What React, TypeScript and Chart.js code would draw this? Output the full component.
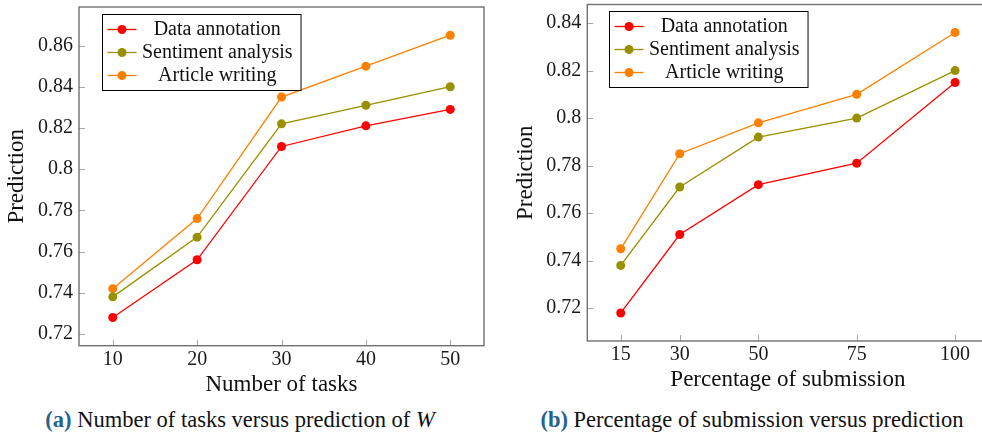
import React, { useEffect, useRef } from "react";
import { Chart, registerables } from "chart.js";
Chart.register(...registerables);

const FONT = "'Liberation Serif', 'DejaVu Serif', serif";

const seriesNames = ["Data annotation", "Sentiment analysis", "Article writing"];
const seriesColors = ["#ff0000", "#999000", "#ff8000"];

// (a) Number of tasks
const tasksX = [10, 20, 30, 40, 50];
const tasksAnnotation = [0.728, 0.756, 0.811, 0.821, 0.829];
const tasksSentiment = [0.738, 0.767, 0.822, 0.831, 0.84];
const tasksArticle = [0.742, 0.776, 0.835, 0.85, 0.865];
const tasksYTicks = [0.72, 0.74, 0.76, 0.78, 0.8, 0.82, 0.84, 0.86];

// (b) Percentage of submission
const subX = [15, 30, 50, 75, 100];
const subAnnotation = [0.718, 0.751, 0.772, 0.781, 0.815];
const subSentiment = [0.738, 0.771, 0.792, 0.8, 0.82];
const subArticle = [0.745, 0.785, 0.798, 0.81, 0.836];
const subYTicks = [0.72, 0.74, 0.76, 0.78, 0.8, 0.82, 0.84];

function enlarged(vals: number[]) {
  const mn = Math.min(...vals);
  const mx = Math.max(...vals);
  const r = mx - mn;
  return { min: mn - 0.1 * r, max: mx + 0.1 * r };
}

const boxPlugin = {
  id: "pgfBox",
  afterDatasetsDraw(chart: any) {
    const { ctx, chartArea, scales } = chart;
    const { left, right, top, bottom } = chartArea;
    ctx.save();
    ctx.strokeStyle = "#a8a8a8";
    ctx.lineWidth = 1;
    scales.x.ticks.forEach((t: any) => {
      const px = Math.round(scales.x.getPixelForValue(t.value)) + 0.5;
      ctx.beginPath();
      ctx.moveTo(px, bottom);
      ctx.lineTo(px, bottom - 6);
      ctx.stroke();
    });
    scales.y.ticks.forEach((t: any) => {
      const py = Math.round(scales.y.getPixelForValue(t.value)) + 0.5;
      ctx.beginPath();
      ctx.moveTo(left, py);
      ctx.lineTo(left + 6, py);
      ctx.stroke();
    });
    ctx.strokeStyle = "#707070";
    ctx.lineWidth = 1.4;
    ctx.strokeRect(left, top, right - left, bottom - top);
    ctx.restore();
  },
};

const legendPlugin = {
  id: "pgfLegend",
  afterDraw(chart: any, _args: any, opts: any) {
    const { ctx, chartArea } = chart;
    ctx.save();
    ctx.font = `20px ${FONT}`;
    const ds = chart.data.datasets;
    const maxW = Math.max(...ds.map((d: any) => ctx.measureText(d.label).width));
    const x0 = Math.round(chartArea.left + opts.dx) + 0.5;
    const y0 = Math.round(chartArea.top + opts.dy) + 0.5;
    const sampleW = 34;
    const w = sampleW + 8 + maxW + 6;
    const h = 76;
    ctx.fillStyle = "#ffffff";
    ctx.fillRect(x0, y0, w, h);
    ctx.strokeStyle = "#000000";
    ctx.lineWidth = 1;
    ctx.strokeRect(x0, y0, w, h);
    ds.forEach((d: any, i: number) => {
      const y = y0 + 15 + i * 23;
      ctx.strokeStyle = d.borderColor;
      ctx.lineWidth = 1.3;
      ctx.beginPath();
      ctx.moveTo(x0 + 5, y);
      ctx.lineTo(x0 + sampleW, y);
      ctx.stroke();
      ctx.fillStyle = d.borderColor;
      ctx.beginPath();
      ctx.arc(x0 + 19.5, y, 4.5, 0, Math.PI * 2);
      ctx.fill();
      ctx.fillStyle = "#111111";
      ctx.textAlign = "center";
      ctx.textBaseline = "middle";
      ctx.fillText(d.label, x0 + sampleW + 5.5 + maxW / 2, y);
    });
    ctx.restore();
  },
};

type Cfg = {
  xs: number[];
  series: number[][];
  yTicks: number[];
  xTitle: string;
  width: number;
  height: number;
  padTop: number;
  padRight: number;
  yAxisW: number;
  xAxisH: number;
  legendDx: number;
  legendDy: number;
};

function LineChart(p: Cfg) {
  const ref = useRef<HTMLCanvasElement | null>(null);
  useEffect(() => {
    if (!ref.current) return;
    const xr = enlarged(p.xs);
    const yr = enlarged(p.series.flat());
    const chart = new Chart(ref.current, {
      type: "line",
      data: {
        datasets: p.series.map((vals, i) => ({
          label: seriesNames[i],
          data: p.xs.map((x, j) => ({ x, y: vals[j] })),
          borderColor: seriesColors[i],
          backgroundColor: seriesColors[i],
          pointBackgroundColor: seriesColors[i],
          pointBorderWidth: 0,
          pointRadius: 4.5,
          borderWidth: 1.3,
          tension: 0,
          fill: false,
        })),
      },
      options: {
        animation: false,
        responsive: false,
        devicePixelRatio: 1,
        layout: { padding: { top: p.padTop, right: p.padRight, left: 0, bottom: 0 } },
        plugins: {
          legend: { display: false },
          tooltip: { enabled: false },
          pgfLegend: { dx: p.legendDx, dy: p.legendDy },
        } as any,
        scales: {
          x: {
            type: "linear",
            min: xr.min,
            max: xr.max,
            afterBuildTicks: (s: any) => {
              s.ticks = p.xs.map((v) => ({ value: v }));
            },
            afterFit: (s: any) => {
              s.height = p.xAxisH;
              s.paddingLeft = 0;
              s.paddingRight = 0;
              s.paddingTop = 0;
              s.paddingBottom = 0;
            },
            grid: { display: false, drawTicks: false },
            border: { display: false },
            ticks: {
              font: { family: FONT, size: 20 },
              color: "#1a1a1a",
              padding: 2,
              maxRotation: 0,
              autoSkip: false,
              callback: (v: any) => String(v),
            },
            title: {
              display: true,
              text: p.xTitle,
              font: { family: FONT, size: 23 },
              color: "#111111",
              padding: 0,
            },
          },
          y: {
            type: "linear",
            min: yr.min,
            max: yr.max,
            afterBuildTicks: (s: any) => {
              s.ticks = p.yTicks.map((v) => ({ value: v }));
            },
            afterFit: (s: any) => {
              s.width = p.yAxisW;
              s.paddingLeft = 0;
              s.paddingRight = 0;
              s.paddingTop = 0;
              s.paddingBottom = 0;
            },
            grid: { display: false, drawTicks: false },
            border: { display: false },
            ticks: {
              font: { family: FONT, size: 20 },
              color: "#1a1a1a",
              padding: 6,
              autoSkip: false,
              callback: (v: any) => String(Number(Number(v).toFixed(2))),
            },
            title: {
              display: true,
              text: "Prediction",
              font: { family: FONT, size: 23 },
              color: "#111111",
              padding: { top: 3, bottom: 0 },
            },
          },
        },
      },
      plugins: [boxPlugin, legendPlugin],
    } as any);
    return () => chart.destroy();
  }, []);
  return (
    <canvas
      ref={ref}
      width={p.width}
      height={p.height}
      style={{ width: p.width, height: p.height, display: "block" }}
    />
  );
}

const captionStyle: React.CSSProperties = {
  position: "absolute",
  top: 409,
  fontFamily: FONT,
  fontSize: 22.5,
  lineHeight: 1,
  whiteSpace: "nowrap",
  color: "#111111",
  transform: "translateX(-50%)",
};

export default function App() {
  return (
    <div
      style={{
        position: "fixed",
        left: 0,
        top: 0,
        width: 982,
        height: 434,
        overflow: "hidden",
        background: "#ffffff",
      }}
    >
      <div style={{ position: "absolute", left: 0, top: 0 }}>
        <LineChart
          xs={tasksX}
          series={[tasksAnnotation, tasksSentiment, tasksArticle]}
          yTicks={tasksYTicks}
          xTitle="Number of tasks"
          width={490}
          height={399}
          padTop={7}
          padRight={6}
          yAxisW={79}
          xAxisH={53.3}
          legendDx={23}
          legendDy={7}
        />
      </div>
      <div style={{ position: "absolute", left: 509, top: 0 }}>
        <LineChart
          xs={subX}
          series={[subAnnotation, subSentiment, subArticle]}
          yTicks={subYTicks}
          xTitle="Percentage of submission"
          width={484}
          height={394}
          padTop={2.7}
          padRight={1.6}
          yAxisW={78.3}
          xAxisH={53}
          legendDx={22}
          legendDy={6.6}
        />
      </div>
      <div style={{ ...captionStyle, left: 240 }}>
        <span style={{ fontWeight: "bold", color: "#22638f" }}>(a)</span> Number of tasks versus
        prediction of <span style={{ fontStyle: "italic" }}>W</span>
      </div>
      <div style={{ ...captionStyle, left: 752 }}>
        <span style={{ fontWeight: "bold", color: "#22638f" }}>(b)</span> Percentage of submission
        versus prediction
      </div>
    </div>
  );
}
